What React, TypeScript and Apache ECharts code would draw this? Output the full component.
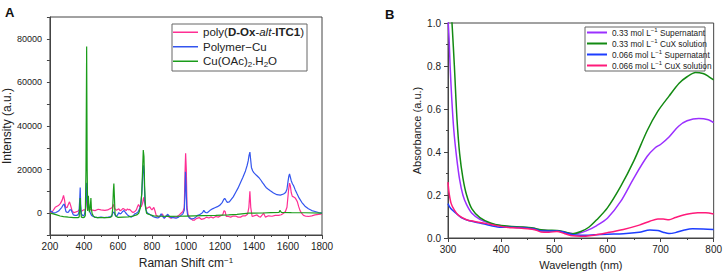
import React, { useEffect, useRef } from "react";
import * as echarts from "echarts";

// ---------- Panel A: Raman spectra (cm-1, intensity) ----------
const ramanPoly: number[][] = [
  [200, 0], [215, 800], [231, 2700], [250, 3500], [262, 4500], [272, 6000], [280, 8200], [286, 6000], [292, 2800],
  [300, 2500], [308, 4000], [315, 5200], [322, 3500], [330, 1200], [340, 300], [350, 500], [364, 900], [372, 1500],
  [377, 1300], [383, 800], [397, 1500], [410, 1500], [416, 9000], [422, 2000], [430, 1800], [445, 1500], [465, 1200],
  [484, 1800], [500, 1500], [523, 1300], [540, 1500], [552, 2000], [565, 2500], [574, 4000], [580, 2200], [591, 1300],
  [605, 2000], [612, 1200], [620, 1400], [630, 2200], [640, 1700], [648, 1200], [656, 2000], [663, 1500], [669, 1800],
  [680, 800], [689, 300], [700, 800], [708, 1500], [715, 3000], [721, 4000], [728, 3000], [737, 3000], [745, 4500],
  [751, 7300], [758, 4500], [767, 2000], [776, 2500], [786, 3000], [795, 2000], [800, 1500], [811, 2700], [818, 1000],
  [825, -1000], [835, -1500], [844, -1800], [853, -1000], [862, -300], [868, -1500], [873, -2300], [883, -1300],
  [893, -1000], [903, -2000], [912, -2300], [925, -1700], [942, -1800], [955, -1200], [971, 0], [982, 800], [990, 2500],
  [995, 20000], [998, 27500], [1002, 20000], [1006, 3000], [1012, -500], [1020, -1800], [1029, -2500], [1040, -3200],
  [1049, -3200], [1060, -2500], [1078, -2000], [1090, -2800], [1107, -2500], [1120, -1800], [1135, -2200], [1146, -1700],
  [1160, -2200], [1175, -1500], [1190, -1800], [1205, -1200], [1216, -800], [1224, 1200], [1230, 800], [1237, -1500],
  [1250, -1500], [1263, -1800], [1278, -1300], [1292, -1300], [1306, -1800], [1321, -1800], [1335, -1200], [1350, -1200],
  [1362, -500], [1370, 2700], [1376, 10000], [1381, 2700], [1389, -1500], [1400, -1200], [1418, -800], [1428, -1500],
  [1438, -1800], [1450, -700], [1457, 0], [1467, -1800], [1485, -1200], [1506, -1400], [1525, -1000], [1545, -1000],
  [1560, -700], [1574, 0], [1585, 800], [1594, 2700], [1603, 10300], [1609, 13800], [1614, 12500], [1619, 9500],
  [1625, 7800], [1632, 7500], [1642, 7000], [1650, 6000], [1656, 5000], [1663, 3000], [1671, 1200], [1680, 0],
  [1691, -1000], [1705, -1400], [1720, -1500], [1740, -1200], [1759, -800], [1780, -500], [1800, -300],
];

const ramanPolymerCu: number[][] = [
  [200, 1200], [210, 800], [222, 0], [235, 300], [251, 1000], [262, 2000], [270, 2700], [278, 3800], [284, 4200],
  [289, 2500], [294, 800], [300, 400], [309, 500], [316, 1500], [325, 1500], [332, 200], [338, -800], [348, -1000],
  [358, -1000], [366, -600], [371, 600], [375, 6000], [378, 11800], [381, 4000], [385, -300], [392, -1000], [397, -1200],
  [402, -800], [406, 500], [411, 3000], [416, 14000], [421, 5000], [426, 4500], [431, 2000], [436, 300], [445, -1000],
  [455, -1500], [465, -1800], [480, -2000], [500, -1800], [520, -2000], [543, -1800], [558, -1500], [566, -800],
  [572, 500], [578, 300], [585, -1200], [591, -1500], [598, -800], [605, 300], [612, -300], [620, 0], [628, 800],
  [636, 1200], [645, 200], [656, -800], [668, -1400], [679, -1800], [689, -1200], [699, -300], [708, 0], [718, 500],
  [727, 2000], [735, 4000], [741, 10000], [746, 18000], [750, 22000], [754, 18000], [758, 6000], [763, 2000], [770, 500],
  [776, 0], [786, -500], [796, -1000], [805, -1500], [815, -1800], [825, -2000], [835, -2200], [845, -1500], [854, -300],
  [863, -1500], [873, -2300], [883, -1300], [893, -500], [903, -1500], [912, -2000], [925, -2000], [942, -2300],
  [957, -1800], [971, -1000], [982, -300], [990, 1300], [994, 8000], [997, 19000], [1001, 12000], [1005, 2000],
  [1010, -1000], [1020, -2200], [1029, -2600], [1040, -2500], [1049, -2300], [1058, -1800], [1068, -1000], [1078, -800],
  [1088, -300], [1098, 300], [1105, 1300], [1112, 500], [1120, 200], [1127, 300], [1140, 1200], [1156, 2000],
  [1170, 2500], [1185, 3000], [1200, 3700], [1214, 5000], [1222, 6300], [1228, 6800], [1236, 5800], [1243, 5000],
  [1255, 5200], [1263, 6000], [1278, 7500], [1292, 9500], [1306, 11500], [1321, 14100], [1335, 16500], [1350, 19400],
  [1360, 22000], [1366, 24000], [1371, 26500], [1376, 28000], [1380, 25000], [1385, 21000], [1392, 19500],
  [1399, 18600], [1413, 17500], [1428, 16400], [1442, 15000], [1450, 14000], [1457, 13300], [1464, 12500],
  [1471, 11800], [1484, 11000], [1496, 10300], [1515, 9300], [1535, 8500], [1555, 8300], [1574, 8800], [1586, 9500],
  [1594, 11000], [1600, 14500], [1605, 17000], [1609, 18000], [1614, 16500], [1619, 14900], [1626, 13500],
  [1633, 12600], [1642, 10800], [1652, 9100], [1665, 7000], [1681, 5000], [1700, 3200], [1720, 2000], [1740, 1200],
  [1759, 800], [1780, 300], [1800, 0],
];

const ramanCuOAc: number[][] = [
  [200, 0], [220, -300], [240, -800], [260, -1300], [280, -1600], [309, -1800], [340, -2000], [367, -2000], [372, -1700],
  [375, 3000], [378, 7000], [381, 1000], [385, -1800], [395, -2000], [403, -1800], [408, -1000], [412, 20000],
  [416, 76500], [419, 20000], [422, 1000], [426, 8000], [429, 4000], [432, 500], [437, 2500], [441, 7000], [444, 2000],
  [448, -200], [455, -1200], [462, -1800], [480, -2000], [500, -2000], [530, -2000], [555, -1900], [564, -1500],
  [569, 2000], [573, 10000], [576, 13600], [579, 8000], [583, -500], [590, -1500], [601, -1900], [630, -1800],
  [660, -1700], [690, -1300], [710, -800], [722, 0], [732, 2500], [740, 9000], [745, 20000], [749, 29000], [753, 26000],
  [757, 12000], [762, 3000], [768, 0], [775, -300], [790, -700], [810, -1200], [850, -1400], [900, -1500], [950, -1400],
  [1000, -1300], [1050, -1200], [1100, -1100], [1175, -1000], [1250, -800], [1300, -500], [1370, 0], [1450, 100],
  [1500, 300], [1548, 400], [1552, 1200], [1556, 1000], [1560, 400], [1620, 300], [1700, 200], [1800, 0],
];

// ---------- Panel B: UV-vis absorbance (nm, a.u.) ----------
const sup033: number[][] = [
  [300, 1.02], [302, 0.93], [304, 0.8], [307, 0.65], [311, 0.5], [316, 0.38], [322, 0.27], [328, 0.2], [335, 0.155],
  [345, 0.115], [360, 0.087], [380, 0.067], [400, 0.057], [420, 0.052], [440, 0.05], [460, 0.045], [475, 0.037],
  [490, 0.034], [505, 0.033], [520, 0.026], [540, 0.02], [560, 0.033], [580, 0.058], [600, 0.092], [625, 0.17],
  [650, 0.28], [675, 0.38], [690, 0.42], [700, 0.435], [716, 0.47], [734, 0.52], [750, 0.545], [772, 0.556],
  [790, 0.55], [800, 0.537],
];
const cux033: number[][] = [
  [300, 1.4], [304, 1.15], [308, 0.98], [312, 0.8], [317, 0.55], [322, 0.39], [328, 0.28], [335, 0.2], [345, 0.135],
  [360, 0.095], [380, 0.07], [400, 0.058], [420, 0.054], [440, 0.051], [460, 0.046], [475, 0.038], [490, 0.036],
  [505, 0.035], [520, 0.028], [535, 0.02], [550, 0.03], [565, 0.05], [580, 0.085], [600, 0.14], [625, 0.24],
  [650, 0.36], [675, 0.5], [695, 0.59], [716, 0.66], [735, 0.72], [750, 0.75], [766, 0.77], [780, 0.765],
  [790, 0.752], [800, 0.735],
];
const sup066: number[][] = [
  [300, 0.16], [303, 0.145], [308, 0.13], [315, 0.115], [325, 0.095], [340, 0.08], [360, 0.07], [380, 0.058],
  [400, 0.05], [420, 0.05], [440, 0.048], [460, 0.043], [475, 0.033], [490, 0.032], [505, 0.033], [520, 0.026],
  [535, 0.015], [550, 0.013], [575, 0.015], [600, 0.018], [630, 0.02], [660, 0.027], [680, 0.037], [695, 0.035],
  [705, 0.027], [716, 0.021], [728, 0.025], [745, 0.037], [760, 0.043], [780, 0.042], [800, 0.04],
];
const cux066: number[][] = [
  [300, 0.26], [302, 0.21], [306, 0.16], [312, 0.13], [320, 0.105], [335, 0.085], [350, 0.077], [370, 0.068],
  [390, 0.058], [410, 0.05], [430, 0.047], [450, 0.043], [465, 0.037], [475, 0.028], [490, 0.027], [505, 0.03],
  [520, 0.02], [535, 0.01], [550, 0.008], [570, 0.012], [600, 0.025], [630, 0.04], [660, 0.06], [680, 0.078],
  [695, 0.088], [705, 0.088], [716, 0.085], [728, 0.095], [745, 0.108], [770, 0.118], [785, 0.117], [800, 0.112],
];

const namesA = ["poly(D-Ox-alt-ITC1)", "Polymer\u2212Cu", "Cu(OAc)2.H2O"];
const richNamesA: Record<string, string> = {
  "poly(D-Ox-alt-ITC1)": "poly({b|D-Ox}-{i|alt}-{b|ITC1})",
  "Polymer\u2212Cu": "Polymer\u2212Cu",
  "Cu(OAc)2.H2O": "Cu(OAc){sub|2}.H{sub|2}O",
};
const namesB = [
  "0.33 mol L-1 Supernatant",
  "0.33 mol L-1 CuX solution",
  "0.066 mol L-1 Supernatant",
  "0.066 mol L-1 CuX solution",
];
const richNamesB: Record<string, string> = {
  "0.33 mol L-1 Supernatant": "0.33 mol L{sup|\u22121} Supernatant",
  "0.33 mol L-1 CuX solution": "0.33 mol L{sup|\u22121} CuX solution",
  "0.066 mol L-1 Supernatant": "0.066 mol L{sup|\u22121} Supernatant",
  "0.066 mol L-1 CuX solution": "0.066 mol L{sup|\u22121} CuX solution",
};

const colorsA = ["#ff2e93", "#3355ee", "#1a9c1a"];
const colorsB = ["#9b30ff", "#138a13", "#1d3dff", "#ff1a7a"];

const FONT = "Liberation Sans";
const AX = "#444";
const TXT = "#222";

export default function App() {
  const ref = useRef<HTMLDivElement>(null);
  useEffect(() => {
    if (!ref.current) return;
    const chart = echarts.init(ref.current, null, { renderer: "svg" });
    const axisCommon = {
      axisLine: { show: true, onZero: false, lineStyle: { color: AX, width: 1 } },
      axisTick: { show: true, inside: false, length: 4, lineStyle: { color: AX } },
      minorTick: { show: true, splitNumber: 2, length: 2, lineStyle: { color: AX } },
      splitLine: { show: false },
    };
    const option: any = {
      animation: false,
      backgroundColor: "#fff",
      textStyle: { fontFamily: FONT },
      grid: [
        { left: 48, right: 403, top: 17, bottom: 37, show: true, borderColor: AX, borderWidth: 1 },
        { left: 448, right: 10, top: 23, bottom: 36, show: true, borderColor: AX, borderWidth: 1 },
      ],
      xAxis: [
        {
          ...axisCommon,
          gridIndex: 0, type: "value", min: 200, max: 1800, interval: 200,
          axisLabel: { fontSize: 10, color: TXT, margin: 6, fontFamily: FONT, formatter: (v: number) => String(v) },
          name: "Raman Shift cm{sup|\u22121}", nameLocation: "middle", nameGap: 21,
          nameTextStyle: {
            fontSize: 12, color: TXT, fontFamily: FONT, lineHeight: 14,
            rich: { sup: { fontSize: 8, fontFamily: FONT, color: TXT, verticalAlign: "top", lineHeight: 9 } },
          },
        },
        {
          ...axisCommon,
          gridIndex: 1, type: "value", min: 300, max: 800, interval: 100,
          axisLabel: { fontSize: 10, color: TXT, margin: 6, fontFamily: FONT, formatter: (v: number) => String(v) },
          name: "Wavelength (nm)", nameLocation: "middle", nameGap: 21,
          nameTextStyle: { fontSize: 11, color: TXT, fontFamily: FONT },
        },
      ],
      yAxis: [
        {
          ...axisCommon,
          minorTick: { show: false },
          gridIndex: 0, type: "value", min: -10000, max: 90000, interval: 10000,
          axisTick: { show: true, inside: false, length: 3, lineStyle: { color: AX } },
          axisLabel: {
            fontSize: 9, color: TXT, margin: 8, fontFamily: FONT,
            formatter: (v: number) => (v >= 0 && v % 20000 === 0 ? String(v) : ""),
          },
          name: "Intensity (a.u.)", nameLocation: "middle", nameGap: 33,
          nameTextStyle: { fontSize: 12, color: TXT, fontFamily: FONT },
        },
        {
          ...axisCommon,
          gridIndex: 1, type: "value", min: 0, max: 1, interval: 0.2,
          axisLabel: {
            fontSize: 10, color: TXT, margin: 7, fontFamily: FONT,
            formatter: (v: number) => v.toFixed(1),
          },
          name: "Absorbance (a.u.)", nameLocation: "middle", nameGap: 26,
          nameTextStyle: { fontSize: 11, color: TXT, fontFamily: FONT },
        },
      ],
      legend: [
        {
          data: namesA, orient: "vertical", left: 173, top: 25, padding: 0, itemGap: 0,
          itemWidth: 25, itemHeight: 1.5, itemTextGap: 4, icon: "rect",
          formatter: (n: string) => richNamesA[n] ?? n,
          textStyle: {
            fontSize: 11.5, color: TXT, fontFamily: FONT, lineHeight: 14.5,
            rich: {
              b: { fontSize: 11.5, fontWeight: "bold", fontFamily: FONT, color: TXT, lineHeight: 14.5 },
              i: { fontSize: 11.5, fontStyle: "italic", fontFamily: FONT, color: TXT, lineHeight: 14.5 },
              sub: { fontSize: 8, fontFamily: FONT, color: TXT, verticalAlign: "bottom", lineHeight: 10 },
            },
          },
        },
        {
          data: namesB, orient: "vertical", left: 587, top: 27, padding: 0, itemGap: 0,
          itemWidth: 20, itemHeight: 2, itemTextGap: 2, icon: "rect",
          formatter: (n: string) => richNamesB[n] ?? n,
          textStyle: {
            fontSize: 8.3, color: TXT, fontFamily: FONT, lineHeight: 11,
            rich: {
              sup: { fontSize: 6, fontFamily: FONT, color: TXT, verticalAlign: "top", lineHeight: 8 },
            },
          },
        },
      ],
      graphic: [
        { type: "text", left: 5, top: 6, style: { text: "A", font: `bold 13px ${FONT}`, fill: "#111" } },
        { type: "text", left: 385, top: 8, style: { text: "B", font: `bold 13px ${FONT}`, fill: "#111" } },
        {
          type: "rect", shape: { x: 172, y: 24, width: 135, height: 47 },
          style: { fill: "rgba(0,0,0,0)", stroke: "#666", lineWidth: 1 },
        },
        {
          type: "rect", shape: { x: 585, y: 27, width: 120, height: 44 },
          style: { fill: "rgba(0,0,0,0)", stroke: "#666", lineWidth: 1 },
        },
      ],
      series: [
        { name: namesA[0], type: "line", xAxisIndex: 0, yAxisIndex: 0, data: ramanPoly, showSymbol: false, color: colorsA[0], lineStyle: { width: 1.2 } },
        { name: namesA[1], type: "line", xAxisIndex: 0, yAxisIndex: 0, data: ramanPolymerCu, showSymbol: false, color: colorsA[1], lineStyle: { width: 1.2 } },
        { name: namesA[2], type: "line", xAxisIndex: 0, yAxisIndex: 0, data: ramanCuOAc, showSymbol: false, color: colorsA[2], lineStyle: { width: 1.2 } },
        { name: namesB[0], type: "line", xAxisIndex: 1, yAxisIndex: 1, data: sup033, showSymbol: false, smooth: 0.3, color: colorsB[0], lineStyle: { width: 1.5 } },
        { name: namesB[1], type: "line", xAxisIndex: 1, yAxisIndex: 1, data: cux033, showSymbol: false, smooth: 0.3, color: colorsB[1], lineStyle: { width: 1.5 } },
        { name: namesB[2], type: "line", xAxisIndex: 1, yAxisIndex: 1, data: sup066, showSymbol: false, smooth: 0.3, color: colorsB[2], lineStyle: { width: 1.5 } },
        { name: namesB[3], type: "line", xAxisIndex: 1, yAxisIndex: 1, data: cux066, showSymbol: false, smooth: 0.3, color: colorsB[3], lineStyle: { width: 1.5 } },
      ],
    };
    chart.setOption(option);
    return () => chart.dispose();
  }, []);
  return (
    <div
      ref={ref}
      style={{ position: "fixed", left: 0, top: 0, width: 725, height: 275, background: "#fff" }}
    />
  );
}
